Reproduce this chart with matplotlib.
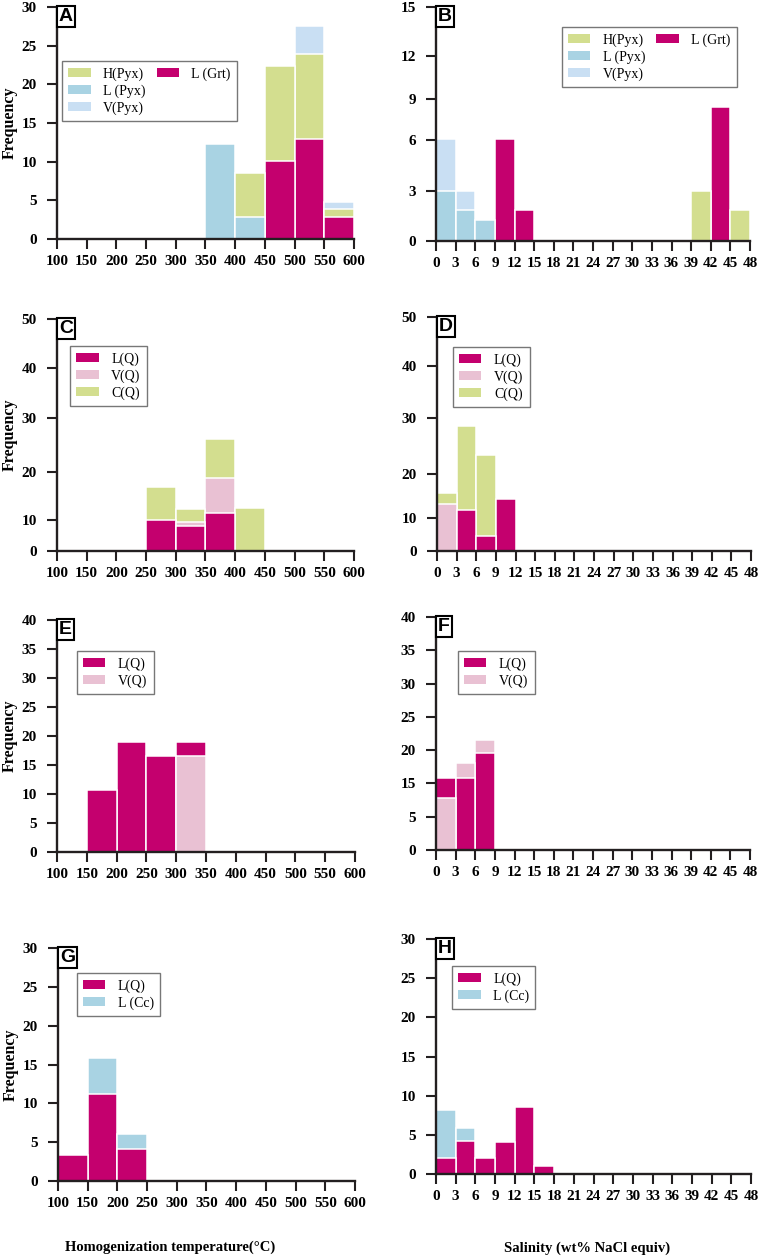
import numpy as np
import matplotlib
matplotlib.use("Agg")
import matplotlib.pyplot as plt
from matplotlib.patches import Patch

plt.rcParams['font.family'] = ['Liberation Serif', 'DejaVu Serif']

# bin left edges
temp_bins = [100, 150, 200, 250, 300, 350, 400, 450, 500, 550]
sal_bins = [0, 3, 6, 9, 12, 15, 18, 21, 24, 27, 30, 33, 36, 39, 42, 45]
temp_ticks = [100, 150, 200, 250, 300, 350, 400, 450, 500, 550, 600]
sal_ticks = [0, 3, 6, 9, 12, 15, 18, 21, 24, 27, 30, 33, 36, 39, 42, 45, 48]

# A - homogenization temperature, skarn stage
a_l_grt = [0, 0, 0, 0, 0, 0, 0, 10.1, 12.9, 2.9]
a_l_pyx = [0, 0, 0, 0, 0, 12.3, 2.9, 0, 0, 0]
a_h_pyx = [0, 0, 0, 0, 0, 0, 8.5, 22.4, 23.9, 3.9]
a_v_pyx = [0, 0, 0, 0, 0, 0, 0, 0, 27.6, 4.8]

# B - salinity, skarn stage
b_l_grt = [0, 0, 0, 6.05, 1.85, 0, 0, 0, 0, 0, 0, 0, 0, 0, 8.4, 0]
b_l_pyx = [3.0, 1.85, 1.25, 0, 0, 0, 0, 0, 0, 0, 0, 0, 0, 0, 0, 0]
b_h_pyx = [0, 0, 0, 0, 0, 0, 0, 0, 0, 0, 0, 0, 0, 3.0, 0, 1.85]
b_v_pyx = [6.05, 3.0, 0, 0, 0, 0, 0, 0, 0, 0, 0, 0, 0, 0, 0, 0]

# C / D
c_l_q = [0, 0, 0, 9.9, 8.0, 11.4, 0, 0, 0, 0]
c_v_q = [0, 0, 0, 0, 9.2, 18.8, 0, 0, 0, 0]
c_c_q = [0, 0, 0, 16.9, 12.2, 26.2, 12.4, 0, 0, 0]
d_l_q = [0, 11.8, 4.5, 14.2, 0, 0, 0, 0, 0, 0, 0, 0, 0, 0, 0, 0]
d_v_q = [13.0, 0, 0, 0, 0, 0, 0, 0, 0, 0, 0, 0, 0, 0, 0, 0]
d_c_q = [15.5, 28.6, 23.4, 0, 0, 0, 0, 0, 0, 0, 0, 0, 0, 0, 0, 0]

# E / F
e_l_q = [0, 10.7, 19.0, 16.6, 19.0, 0, 0, 0, 0, 0]
e_v_q = [0, 0, 0, 0, 16.6, 0, 0, 0, 0, 0]
f_l_q = [15.75, 15.75, 19.5, 0, 0, 0, 0, 0, 0, 0, 0, 0, 0, 0, 0, 0]
f_v_q = [10.7, 18.0, 21.5, 0, 0, 0, 0, 0, 0, 0, 0, 0, 0, 0, 0, 0]

# G / H
g_l_q = [3.3, 11.2, 4.1, 0, 0, 0, 0, 0, 0, 0]
g_l_cc = [0, 15.8, 6.0, 0, 0, 0, 0, 0, 0, 0]
h_l_q = [2.1, 4.2, 2.0, 4.1, 8.5, 1.0, 0, 0, 0, 0, 0, 0, 0, 0, 0, 0]
h_l_cc = [8.2, 5.9, 0, 0, 0, 0, 0, 0, 0, 0, 0, 0, 0, 0, 0, 0]

MAG = '#C4006E'
GRN = '#D3DE8F'
BLU = '#A9D3E3'
LBL = '#C9DFF3'
PNK = '#E9C1D3'
AX = '#231f20'

W, H = 761, 1256
fig = plt.figure(figsize=(W / 100, H / 100), dpi=100)


def px_axes(l, t, r, b):
    return fig.add_axes([l / W, 1 - b / H, (r - l) / W, (b - t) / H])


def panel(ax, lefts, width, series, xticks, yticks, yfracs, letter,
          leg_anchor, ncol=1, ylabel=True):
    # overlapped histogram: shorter bars drawn in front
    for vals, color, _ in series:
        x = [l for l, v in zip(lefts, vals) if v > 0]
        h = [v for v in vals if v > 0]
        bars = ax.bar(x, h, width, align='edge', color=color,
                      edgecolor='white', linewidth=1.1)
        for p, v in zip(bars, h):
            p.set_zorder(2 - v / 100.0)

    if yfracs is not None:
        # axis spacing as printed in the original figure
        yt = np.array(yticks, float)
        yf = np.array(yfracs, float)
        ax.set_yscale('function',
                      functions=(lambda v: np.interp(v, yt, yf),
                                 lambda f: np.interp(f, yf, yt)))
    ax.set_xlim(xticks[0], xticks[-1])
    ax.set_ylim(yticks[0], yticks[-1])
    ax.set_xticks(xticks)
    ax.set_yticks(yticks)
    ax.set_yticklabels([str(t) for t in yticks])
    ax.minorticks_off()

    for s in ['top', 'right']:
        ax.spines[s].set_visible(False)
    for s in ['left', 'bottom']:
        ax.spines[s].set_linewidth(1.7)
        ax.spines[s].set_color(AX)
        ax.spines[s].set_zorder(5)
    ax.tick_params(direction='out', length=7, width=1.5, color=AX,
                   labelsize=11)
    ax.tick_params(axis='x', pad=4.5)
    ax.tick_params(axis='y', pad=7.5)
    for lab in ax.get_xticklabels() + ax.get_yticklabels():
        lab.set_fontweight('bold')

    ax.text(0.006, 0.995, letter, transform=ax.transAxes, ha='left', va='top',
            fontsize=14, fontweight='bold', family='Liberation Sans', zorder=6,
            bbox=dict(boxstyle='square,pad=0.1', fc='white', ec='black', lw=1.5))

    handles = [Patch(facecolor=c, edgecolor='none', label=l) for _, c, l in series]
    if ncol == 2:
        blank = Patch(facecolor='none', edgecolor='none', label='')
        handles = handles[:3] + [handles[3], blank, blank]
    leg = ax.legend(handles=handles, loc='upper left', bbox_to_anchor=leg_anchor,
                    ncol=ncol, fontsize=10, frameon=True, fancybox=False,
                    edgecolor='#555555', handlelength=1.6, handleheight=0.6,
                    handletextpad=0.9, labelspacing=0.25, borderpad=0.45,
                    columnspacing=0.8, borderaxespad=0)
    leg.get_frame().set_linewidth(1.0)
    leg.set_zorder(6)

    if ylabel:
        ax.set_ylabel('Frequency', fontsize=11.5, fontweight='bold', va='center')
        ax.yaxis.set_label_coords(-0.158, 0.5)


# A
axA = px_axes(57, 7, 354, 239)
panel(axA, temp_bins, 50,
      [(a_h_pyx, GRN, 'H(Pyx)'), (a_l_pyx, BLU, 'L (Pyx)'),
       (a_v_pyx, LBL, 'V(Pyx)'), (a_l_grt, MAG, 'L (Grt)')],
      temp_ticks, [0, 5, 10, 15, 20, 25, 30], None, 'A', (0.017, 0.767), ncol=2)

# B
axB = px_axes(436, 7, 750, 241)
panel(axB, sal_bins, 3,
      [(b_h_pyx, GRN, 'H(Pyx)'), (b_l_pyx, BLU, 'L (Pyx)'),
       (b_v_pyx, LBL, 'V(Pyx)'), (b_l_grt, MAG, 'L (Grt)')],
      sal_ticks, [0, 3, 6, 9, 12, 15], [0, 0.213, 0.431, 0.607, 0.791, 1],
      'B', (0.401, 0.915), ncol=2, ylabel=False)

# C
axC = px_axes(57, 319, 354, 551)
panel(axC, temp_bins, 50,
      [(c_l_q, MAG, 'L(Q)'), (c_v_q, PNK, 'V(Q)'), (c_c_q, GRN, 'C(Q)')],
      temp_ticks, [0, 10, 20, 30, 40, 50], [0, 0.135, 0.34, 0.572, 0.788, 1],
      'C', (0.044, 0.884))

# D
axD = px_axes(437, 317, 751, 551)
panel(axD, sal_bins, 3,
      [(d_l_q, MAG, 'L(Q)'), (d_v_q, PNK, 'V(Q)'), (d_c_q, GRN, 'C(Q)')],
      sal_ticks, [0, 10, 20, 30, 40, 50], [0, 0.143, 0.331, 0.567, 0.791, 1],
      'D', (0.051, 0.872), ylabel=False)

# E
axE = px_axes(57, 620, 355, 852)
panel(axE, temp_bins, 50,
      [(e_l_q, MAG, 'L(Q)'), (e_v_q, PNK, 'V(Q)')],
      temp_ticks, [0, 5, 10, 15, 20, 25, 30, 35, 40], None, 'E', (0.067, 0.866))

# F (axis as printed: label 10 missing)
axF = px_axes(436, 617, 750, 850)
f_ticks = [0, 5, 15, 20, 25, 30, 35, 40]
panel(axF, sal_bins, 3,
      [(f_l_q, MAG, 'L(Q)'), (f_v_q, PNK, 'V(Q)')],
      sal_ticks, f_ticks, list(np.linspace(0, 1, len(f_ticks))),
      'F', (0.070, 0.854), ylabel=False)

# G
axG = px_axes(58, 948, 355, 1181)
panel(axG, temp_bins, 50,
      [(g_l_q, MAG, 'L(Q)'), (g_l_cc, BLU, 'L (Cc)')],
      temp_ticks, [0, 5, 10, 15, 20, 25, 30], None, 'G', (0.064, 0.893))

# H
axH = px_axes(436, 939, 751, 1174)
panel(axH, sal_bins, 3,
      [(h_l_q, MAG, 'L(Q)'), (h_l_cc, BLU, 'L (Cc)')],
      sal_ticks, [0, 5, 10, 15, 20, 25, 30], None, 'H', (0.051, 0.885), ylabel=False)

fig.text(170 / W, 1 - 1247 / H, 'Homogenization temperature(°C)', ha='center',
         va='center', fontsize=10.5, fontweight='bold')
fig.text(587 / W, 1 - 1248 / H, 'Salinity (wt% NaCl equiv)', ha='center',
         va='center', fontsize=10.5, fontweight='bold')

fig.savefig('out.png', dpi=100)
